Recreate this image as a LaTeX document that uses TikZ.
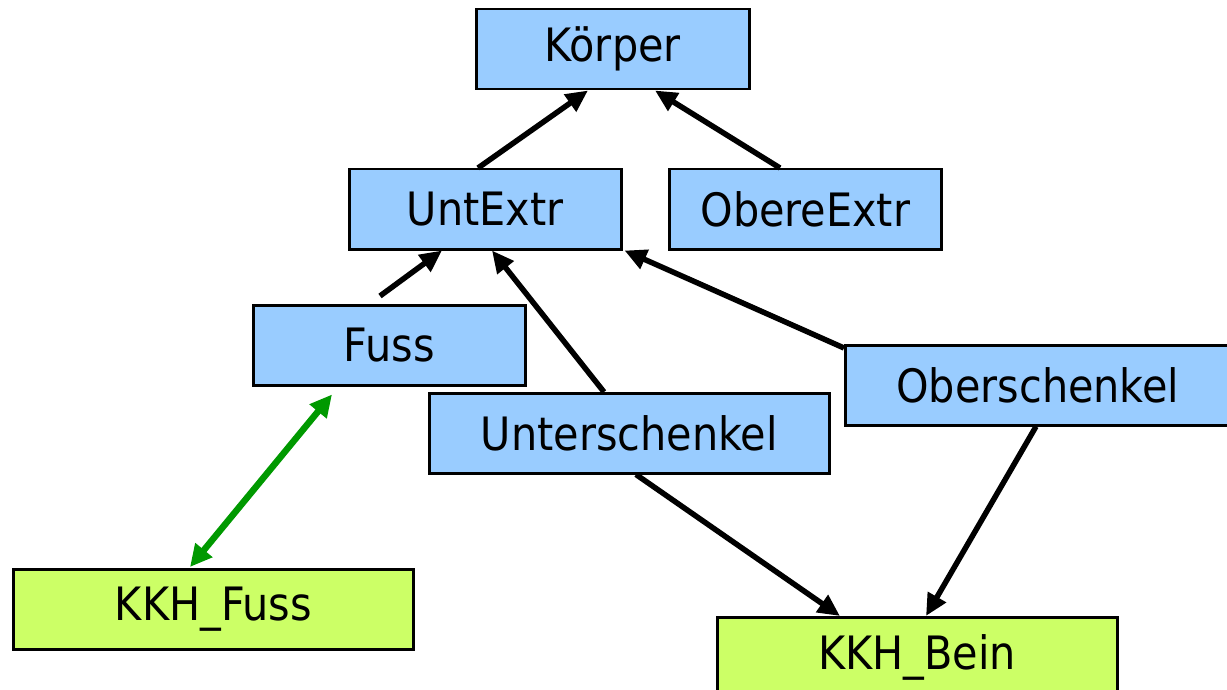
\documentclass[tikz,border=0pt]{standalone}
\usepackage{fontspec}
\setmainfont{DejaVu Sans Condensed}
\usetikzlibrary{arrows.meta}
\definecolor{boxblue}{HTML}{99CCFF}
\definecolor{boxgreen}{HTML}{CCFF66}
\definecolor{arrgreen}{HTML}{009900}
\tikzset{
  cls/.style={draw=black, line width=2.5pt, fill=boxblue, anchor=north west, inner sep=0pt,
    minimum height=80pt, font=\fontsize{46}{50}\selectfont},
  kkh/.style={cls, fill=boxgreen},
  inh/.style={draw=black, line width=5.5pt, -{Triangle[length=22pt,width=20pt]}},
  assoc/.style={draw=arrgreen, line width=6.5pt, {Triangle[length=22pt,width=21pt]}-{Triangle[length=22pt,width=21pt]}}
}
\begin{document}
\begin{tikzpicture}[x=1pt,y=-1pt]
\useasboundingbox (0,0) rectangle (1227,690);
\node[cls, minimum width=273pt] (koerper) at (475,8) {Körper};
\node[cls, minimum width=272pt] (untextr) at (348,168) {UntExtr};
\node[cls, minimum width=272pt] (obereextr) at (668,168) {ObereExtr};
\node[cls, minimum width=272pt] (fuss) at (252,304) {Fuss};
\node[cls, minimum width=400pt] (unterschenkel) at (428,392) {Unterschenkel};
\node[cls, minimum width=385pt] (oberschenkel) at (844,344) {Oberschenkel};
\node[kkh, minimum width=400pt] (kkhfuss) at (12,568) {KKH\_Fuss};
\node[kkh, minimum width=400pt] (kkhbein) at (716,616) {KKH\_Bein};

\draw[inh] ([xshift=130pt]untextr.north west) -- ([xshift=113pt]koerper.south west);
\draw[inh] ([xshift=112pt]obereextr.north west) -- ([xshift=180pt]koerper.south west);
\draw[inh] ([xshift=128pt,yshift=8pt]fuss.north west) -- ([xshift=94pt]untextr.south west);
\draw[inh] ([xshift=176pt]unterschenkel.north west) -- ([xshift=144pt]untextr.south west);
\draw[inh] ([yshift=-4pt]oberschenkel.north west) -- ([xshift=2pt]untextr.south east);
\draw[inh] ([xshift=208pt]unterschenkel.south west) -- ([xshift=124pt]kkhbein.north west);
\draw[inh] ([xshift=192pt]oberschenkel.south west) -- ([xshift=210pt]kkhbein.north west);
\draw[assoc] ([xshift=80pt,yshift=-8pt]fuss.south west) -- ([xshift=178pt,yshift=1pt]kkhfuss.north west);
\end{tikzpicture}
\end{document}
